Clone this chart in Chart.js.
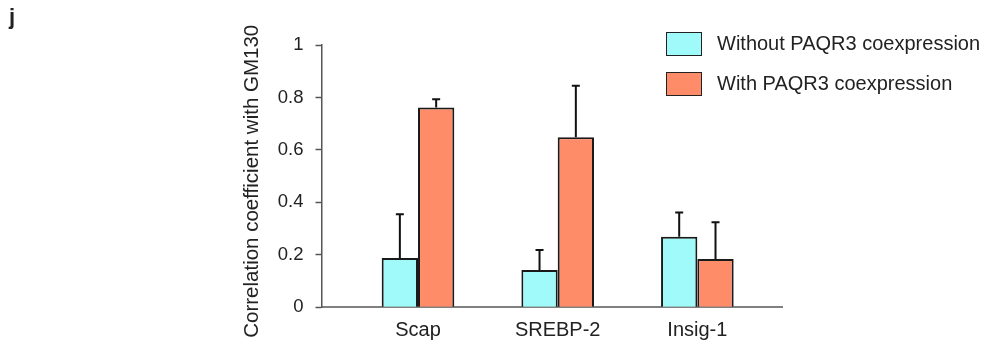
<!DOCTYPE html>
<html>
<head>
<meta charset="utf-8">
<script src="https://cdn.jsdelivr.net/npm/chart.js@4.4.1/dist/chart.umd.min.js"></script>
<style>
  html, body { margin: 0; padding: 0; background: #fff; }
  #wrap { position: relative; width: 995px; height: 343px; font-family: "Liberation Sans", Arial, sans-serif; color: #222; }
  #panel { position: absolute; left: 9px; top: 4px; font-weight: bold; font-size: 22px; }
  .leg { position: absolute; left: 666px; height: 25px; display: flex; align-items: center; font-size: 20px; }
  .leg .box { width: 34px; height: 22px; border: 1.5px solid #222; margin-right: 15px; }
</style>
</head>
<body>
<div id="wrap">
  <canvas id="c" width="995" height="343"></canvas>
  <div id="panel">j</div>
  <div id="legend"></div>
</div>
<script>
const categories = ["Scap", "SREBP-2", "Insig-1"];
const seriesNames = ["Without PAQR3 coexpression", "With PAQR3 coexpression"];
const withoutPAQR3 = [0.188, 0.142, 0.269];
const withPAQR3 = [0.762, 0.648, 0.184];
const errWithout = [0.167, 0.076, 0.092];
const errWith = [0.031, 0.197, 0.140];
const yTicks = [0, 0.2, 0.4, 0.6, 0.8, 1];

const colors = ["rgb(160,250,250)", "rgb(255,140,105)"];

const legendEl = document.getElementById("legend");
seriesNames.forEach((n, i) => {
  const d = document.createElement("div");
  d.className = "leg";
  d.style.top = (31 + i * 40) + "px";
  d.innerHTML = '<div class="box" style="background:' + colors[i] + '"></div><span>' + n + '</span>';
  legendEl.appendChild(d);
});

const errorBars = {
  id: "errorBars",
  afterDatasetsDraw(chart) {
    const ctx = chart.ctx;
    const yScale = chart.scales.y;
    const errs = [errWithout, errWith];
    chart.data.datasets.forEach((ds, di) => {
      const meta = chart.getDatasetMeta(di);
      meta.data.forEach((el, i) => {
        const v = ds.data[i].y;
        const top = yScale.getPixelForValue(v + errs[di][i]);
        ctx.save();
        ctx.strokeStyle = "#111";
        ctx.lineWidth = 2;
        ctx.beginPath();
        ctx.moveTo(el.x, el.y);
        ctx.lineTo(el.x, top);
        ctx.moveTo(el.x - 4, top);
        ctx.lineTo(el.x + 4, top);
        ctx.stroke();
        ctx.restore();
      });
    });
  }
};

const mk = arr => arr.map((v, i) => ({ x: i, y: v }));

new Chart(document.getElementById("c"), {
  type: "bar",
  data: {
    datasets: [
      { label: seriesNames[0], data: mk(withoutPAQR3), backgroundColor: colors[0], borderColor: "#1a1a1a", borderWidth: 2 },
      { label: seriesNames[1], data: mk(withPAQR3), backgroundColor: colors[1], borderColor: "#1a1a1a", borderWidth: 2 }
    ]
  },
  options: {
    responsive: false,
    animation: false,
    devicePixelRatio: 1,
    categoryPercentage: 0.52,
    barPercentage: 1,
    layout: { padding: { left: 236, right: 213, top: 45, bottom: 0 } },
    plugins: { legend: { display: false }, tooltip: { enabled: false } },
    scales: {
      x: {
        type: "linear",
        offset: false,
        min: -0.691,
        max: 2.606,
        afterBuildTicks: s => { s.ticks = categories.map((c, i) => ({ value: i })); },
        afterFit: s => { s.height = 35.7; },
        ticks: {
          callback: v => categories[v] ?? "",
          color: "#222",
          font: { family: "Liberation Sans", size: 20 },
          padding: 11,
          maxRotation: 0,
          autoSkip: false
        },
        grid: { display: true, offset: false, drawOnChartArea: false, drawTicks: false },
        border: { display: true, color: "#808080", width: 2 }
      },
      y: {
        min: 0,
        max: 1,
        afterBuildTicks: s => { s.ticks = yTicks.map(v => ({ value: v })); },
        afterFit: s => { s.width = 85.5; },
        ticks: {
          callback: v => String(+Number(v).toFixed(1)),
          color: "#222",
          font: { family: "Liberation Sans", size: 18.5 },
          padding: 12
        },
        grid: { display: true, drawOnChartArea: false, drawTicks: true, tickLength: 6, tickColor: "#555", tickWidth: 1.5 },
        border: { display: true, color: "#555", width: 1.5 },
        title: {
          display: true,
          text: "Correlation coefficient with GM130\u2002",
          color: "#222",
          font: { family: "Liberation Sans", size: 20.5 },
          padding: { top: 4, bottom: 0 }
        }
      }
    }
  },
  plugins: [errorBars]
});
</script>
</body>
</html>
